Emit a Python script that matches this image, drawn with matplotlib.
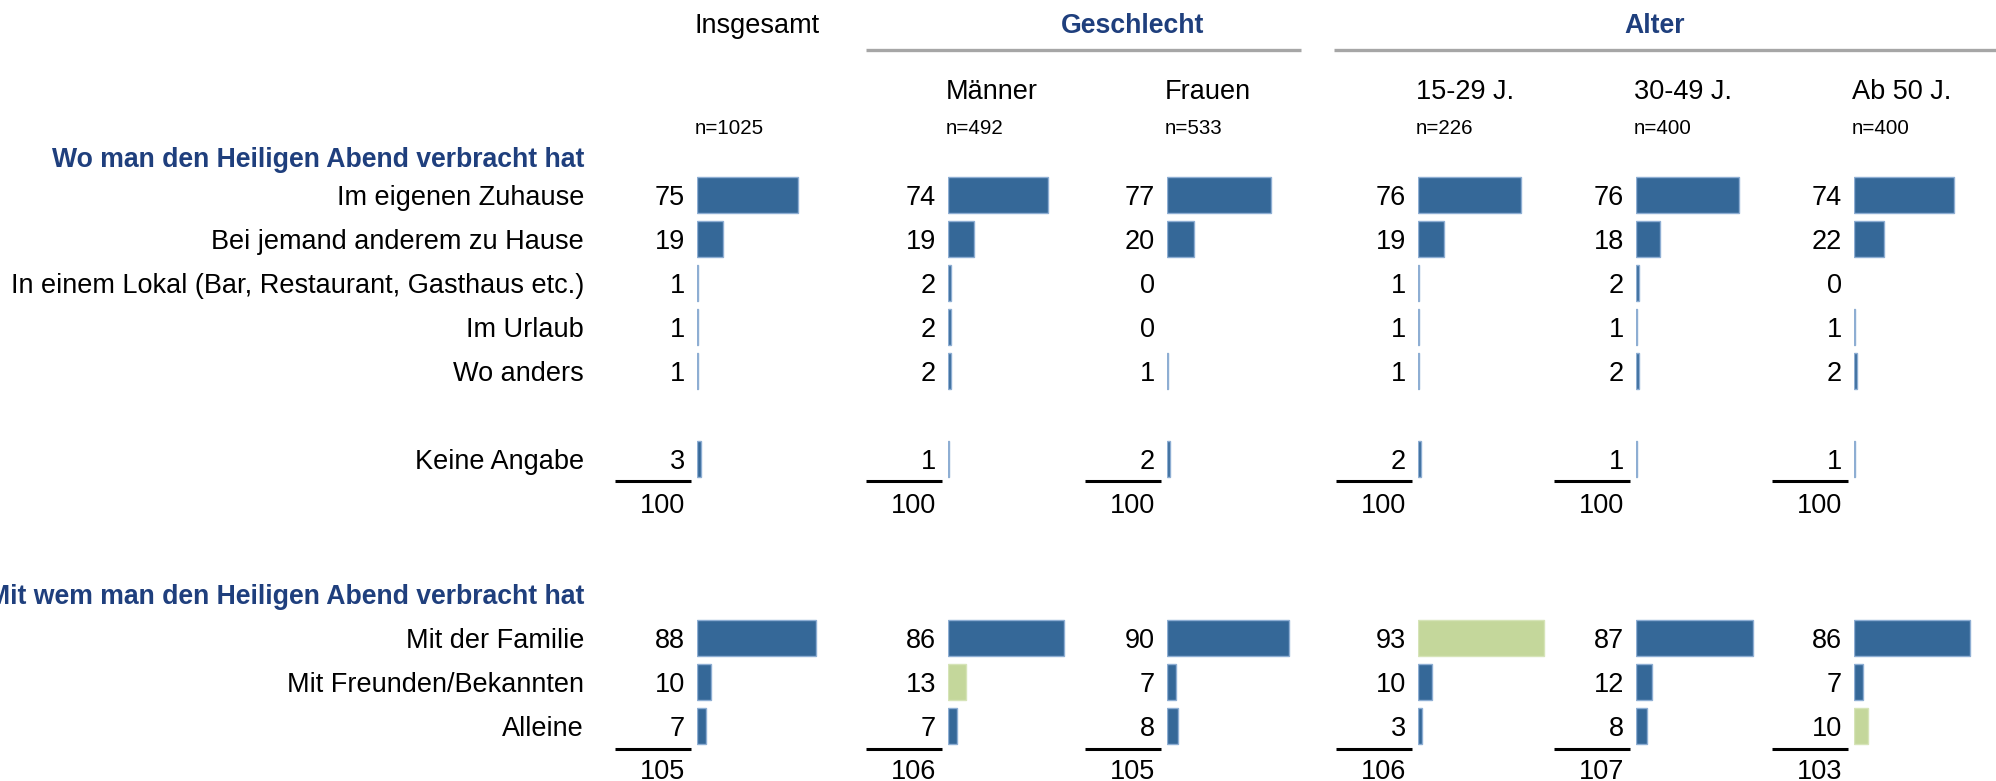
import matplotlib
matplotlib.use("Agg")
from matplotlib import pyplot as plt

# Daten
gruppen = ["Insgesamt", "Männer", "Frauen", "15-29 J.", "30-49 J.", "Ab 50 J."]
fallzahlen = ["n=1025", "n=492", "n=533", "n=226", "n=400", "n=400"]

titel1 = "Wo man den Heiligen Abend verbracht hat"
kategorien1 = ["Im eigenen Zuhause", "Bei jemand anderem zu Hause",
               "In einem Lokal (Bar, Restaurant, Gasthaus etc.)",
               "Im Urlaub", "Wo anders", "Keine Angabe"]
werte1 = [
    [75, 19, 1, 1, 1, 3],
    [74, 19, 2, 2, 2, 1],
    [77, 20, 0, 0, 1, 2],
    [76, 19, 1, 1, 1, 2],
    [76, 18, 2, 1, 2, 1],
    [74, 22, 0, 1, 2, 1],
]
summen1 = [100, 100, 100, 100, 100, 100]

titel2 = "Mit wem man den Heiligen Abend verbracht hat"
kategorien2 = ["Mit der Familie", "Mit Freunden/Bekannten", "Alleine"]
werte2 = [
    [88, 10, 7],
    [86, 13, 7],
    [90, 7, 8],
    [93, 10, 3],
    [87, 12, 8],
    [86, 7, 10],
]
summen2 = [105, 106, 105, 106, 107, 103]
# signifikante Abweichungen (grün markiert): (spalte, zeile)
markiert2 = [(1, 1), (3, 0), (5, 2)]

# Layout (Pixel)
W, H = 1996, 781
BLAU = "#356898"
RAND = "#8eaed3"
GRUEN = "#c4d79b"
TITELBLAU = "#1f3f7d"
FS = 19.5
FS_TITEL = 19.2
DY = 3  # Text etwas tiefer setzen

plt.rcParams['font.family'] = ['Liberation Sans', 'DejaVu Sans']

spalten_x = [697, 948, 1167, 1418, 1636, 1854]
breite_100 = 135
zeilen1 = [195 + 44 * i for i in [0, 1, 2, 3, 4, 6]]
zeilen2 = [638, 682, 726]
linie1, summe1_y = 481, 503
linie2, summe2_y = 749, 769
label_x = 584

fig = plt.figure(figsize=(W / 100, H / 100), dpi=100)
base = fig.add_axes([0, 0, 1, 1])
base.set_xlim(0, W)
base.set_ylim(H, 0)
base.axis("off")

# Kopfzeilen
base.text(spalten_x[0] - 2, 23 + DY, gruppen[0], fontsize=FS, va="center", ha="left")
base.text(1133, 23 + DY, "Geschlecht", fontsize=FS_TITEL, va="center", ha="center",
          fontweight="bold", color=TITELBLAU)
base.text(1655, 23 + DY, "Alter", fontsize=FS_TITEL, va="center", ha="center",
          fontweight="bold", color=TITELBLAU)
base.plot([866, 1301], [50, 50], color="#a6a6a6", lw=2.4, solid_capstyle="butt")
base.plot([1334, W], [50, 50], color="#a6a6a6", lw=2.4, solid_capstyle="butt")
for i in range(1, 6):
    base.text(spalten_x[i] - 2, 89 + DY, gruppen[i], fontsize=FS, va="center", ha="left")
for i in range(6):
    base.text(spalten_x[i] - 2, 125 + DY, fallzahlen[i], fontsize=14.8, va="center", ha="left")

# Zeilenbeschriftungen
base.text(label_x, 157 + DY, titel1, fontsize=FS_TITEL, va="center", ha="right",
          fontweight="bold", color=TITELBLAU)
for y, k in zip(zeilen1, kategorien1):
    base.text(label_x, y + DY, k, fontsize=FS, va="center", ha="right")
base.text(label_x, 594 + DY, titel2, fontsize=FS_TITEL, va="center", ha="right",
          fontweight="bold", color=TITELBLAU)
for y, k in zip(zeilen2, kategorien2):
    base.text(label_x, y + DY, k, fontsize=FS, va="center", ha="right")

# Spalten mit Balken
for i in range(6):
    ax = fig.add_axes([spalten_x[i] / W, 0, breite_100 / W, 1])
    ax.set_xlim(0, 100)
    ax.set_ylim(H, 0)
    ax.axis("off")

    farben2 = [GRUEN if (i, j) in markiert2 else BLAU for j in range(3)]
    for ys, vals, cols in [(zeilen1, werte1[i], [BLAU] * 6), (zeilen2, werte2[i], farben2)]:
        for y, v, c in zip(ys, vals, cols):
            if v > 0:
                ax.barh(y, v, height=36, left=0, color=c,
                        edgecolor=RAND if c == BLAU else "#d6e4b8", linewidth=1)
            ax.annotate(str(v), (0, y + DY), xytext=(-8.5, 0), textcoords="offset points",
                        ha="right", va="center", fontsize=FS)

    xs = spalten_x[i]
    base.plot([xs - 82, xs - 6], [linie1, linie1], color="black", lw=2.2, solid_capstyle="butt")
    base.plot([xs - 82, xs - 6], [linie2, linie2], color="black", lw=2.2, solid_capstyle="butt")
    base.text(xs - 12, summe1_y + DY, str(summen1[i]), fontsize=FS, va="center", ha="right")
    base.text(xs - 12, summe2_y + DY, str(summen2[i]), fontsize=FS, va="center", ha="right")

fig.savefig("out.png", dpi=100)
